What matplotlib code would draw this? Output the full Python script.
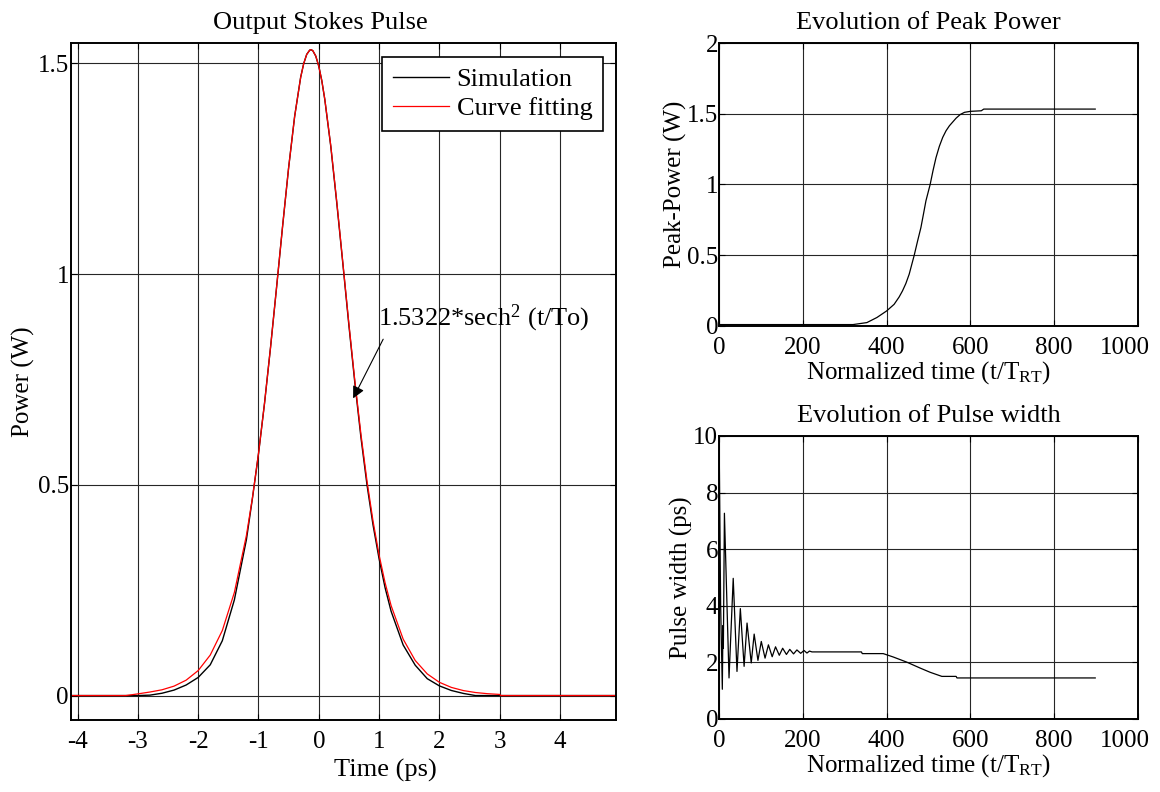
import matplotlib
matplotlib.use("Agg")
import matplotlib.pyplot as plt
from matplotlib.ticker import FuncFormatter
from matplotlib.transforms import ScaledTranslation

# Output Stokes pulse
t_ps = [-4.11, -3.2, -3.0, -2.8, -2.6, -2.4, -2.2, -2.0, -1.8, -1.6, -1.4, -1.2, -1.1,
        -1.0, -0.9, -0.8, -0.7, -0.6, -0.5, -0.4, -0.3, -0.25, -0.2, -0.15, -0.13, -0.1,
        -0.05, 0.0, 0.05, 0.1, 0.2, 0.3, 0.4, 0.5, 0.6, 0.7, 0.8, 0.9, 1.0, 1.1, 1.2, 1.4,
        1.6, 1.8, 2.0, 2.2, 2.4, 2.6, 2.8, 3.0, 3.02, 4.93]
p_sim = [0.0, 0.0, 0.0, 0.001, 0.0055, 0.013, 0.025, 0.043, 0.073, 0.13, 0.227, 0.37, 0.468,
         0.573, 0.693, 0.826, 0.968, 1.113, 1.252, 1.374, 1.467, 1.499, 1.521, 1.531, 1.532, 1.530,
         1.517, 1.493, 1.459, 1.414, 1.302, 1.167, 1.024, 0.878, 0.74, 0.612, 0.50, 0.405, 0.325, 0.256, 0.20, 0.12,
         0.072, 0.04, 0.023, 0.012, 0.005, 0.0, 0.0, 0.0, 0.0, 0.0]
p_fit = [0.0, 0.0, 0.004, 0.0084, 0.0137, 0.0224, 0.0365, 0.0593, 0.0961, 0.1542, 0.2445, 0.380, 0.4693,
         0.5736, 0.6930, 0.8258, 0.9682, 1.1134, 1.2521, 1.3737, 1.4666, 1.4991, 1.5208, 1.5313, 1.5322, 1.5301,
         1.5174, 1.4934, 1.4589, 1.4150, 1.3037, 1.1698, 1.0262, 0.8819, 0.7448, 0.6195, 0.5092, 0.4141, 0.3340, 0.2677, 0.2134, 0.1339,
         0.0832, 0.0513, 0.0315, 0.0193, 0.0118, 0.0072, 0.0044, 0.0027, 0.0, 0.0]

# Evolution of peak power
rt_peak = [0, 320, 353, 377, 400, 418, 430, 438, 446, 454, 466, 474, 482, 488, 494, 504,
           511, 518, 526, 534, 542, 550, 566, 576, 586, 600, 626, 632, 898]
peak_w = [0.01, 0.01, 0.024, 0.06, 0.106, 0.153, 0.205, 0.248, 0.30, 0.366, 0.5, 0.60, 0.696, 0.79, 0.885, 1.0,
          1.10, 1.19, 1.27, 1.333, 1.38, 1.415, 1.469, 1.495, 1.51, 1.517, 1.521, 1.533, 1.533]

# Evolution of pulse width
rt_width = [0, 4, 8, 9.5, 10.5, 13, 24, 34, 43, 51, 60, 67, 77, 84, 93, 101, 110, 118,
            127, 135, 144, 152, 161, 169, 178, 186, 195, 203, 210, 216, 222, 340, 342,
            392, 416, 448, 480, 504, 532, 566, 568, 898]
width_ps = [10.5, 4.0, 1.05, 3.3, 2.5, 7.27, 1.45, 4.97, 1.68, 3.9, 1.86, 3.39, 1.98, 3.0, 2.07, 2.74, 2.15, 2.62,
            2.2, 2.55, 2.25, 2.5, 2.28, 2.46, 2.3, 2.44, 2.32, 2.42, 2.33, 2.4, 2.37, 2.37, 2.31,
            2.31, 2.19, 2.01, 1.80, 1.65, 1.505, 1.505, 1.45, 1.45]

plt.rcParams['font.family'] = ['Liberation Serif', 'DejaVu Serif']
plt.rcParams['mathtext.fontset'] = 'custom'
plt.rcParams['mathtext.rm'] = 'Liberation Serif'
plt.rcParams['mathtext.it'] = 'Liberation Serif:italic'
plt.rcParams['axes.unicode_minus'] = False
plt.rcParams['font.size'] = 18

fig = plt.figure(figsize=(11.6, 7.92), dpi=100)
ax1 = fig.add_axes([0.0612, 0.0909, 0.4698, 0.8548])
ax2 = fig.add_axes([0.6198, 0.5884, 0.3612, 0.3573])
ax3 = fig.add_axes([0.6198, 0.0922, 0.3612, 0.3573])

fmt_g = FuncFormatter(lambda v, pos: '%g' % v)


def style(ax, ypad):
    ax.grid(True, color='0.15', lw=0.8)
    ax.set_axisbelow(True)
    ax.tick_params(direction='in', length=4, top=True, right=True, labelsize=18)
    ax.tick_params(axis='x', pad=8)
    ax.tick_params(axis='y', pad=ypad)
    for s in ax.spines.values():
        s.set_linewidth(1.4)
    ax.yaxis.set_major_formatter(fmt_g)
    ax.xaxis.set_major_formatter(fmt_g)


def shift_last_xlabel(ax, dx_px):
    lab = ax.xaxis.get_major_ticks()[-1].label1
    lab.set_transform(lab.get_transform() + ScaledTranslation(dx_px / 100, 0, fig.dpi_scale_trans))


# left panel
ax1.plot(t_ps, p_sim, color='black', lw=1.0, label='Simulation')
ax1.plot(t_ps, p_fit, color='red', lw=0.9, label='Curve fitting')
ax1.set_xlim(-4.11, 4.93)
ax1.set_ylim(-0.058, 1.548)
ax1.set_xticks(range(-4, 5))
ax1.set_yticks([0, 0.5, 1, 1.5])
style(ax1, 1.5)
ax1.set_title('Output Stokes Pulse', fontsize=19, pad=10, x=0.457)
ax1.set_xlabel('Time (ps)', fontsize=19, labelpad=3)
ax1.xaxis.set_label_coords(0.576, -0.057, transform=ax1.transAxes)
ax1.xaxis.label.set_va('top')
ax1.set_ylabel('Power (W)', fontsize=18, labelpad=2)
leg = ax1.legend(loc='upper right', bbox_to_anchor=(0.976, 0.979), borderaxespad=0,
                 fancybox=False, framealpha=1, edgecolor='black', fontsize=19,
                 handlelength=2.15, handletextpad=0.27, labelspacing=0.2, borderpad=0.4)
leg.get_frame().set_linewidth(1.2)
ax1.annotate(r'1.5322*sech$^{2}$ (t/To)', xy=(0.57, 0.705), xytext=(0.99, 0.895),
             ha='left', va='center', fontsize=19,
             arrowprops=dict(arrowstyle='-|>', color='black', lw=0.8,
                             mutation_scale=18, relpos=(0.035, 0.0), shrinkA=2, shrinkB=0))

# top right panel
ax2.plot(rt_peak, peak_w, color='black', lw=0.9)
ax2.set_xlim(0, 1000)
ax2.set_ylim(0, 2)
ax2.set_xticks(range(0, 1001, 200))
ax2.set_yticks([0, 0.5, 1, 1.5, 2])
style(ax2, 0.5)
shift_last_xlabel(ax2, -13)
ax2.set_title('Evolution of Peak Power', fontsize=19, pad=10)
ax2.set_xlabel(r'Normalized time (t/T$_{\mathrm{RT}}$)', fontsize=18, labelpad=0)
ax2.set_ylabel('Peak-Power (W)', fontsize=18, labelpad=0)

# bottom right panel
ax3.plot(rt_width, width_ps, color='black', lw=0.9)
ax3.set_xlim(0, 1000)
ax3.set_ylim(0, 10)
ax3.set_xticks(range(0, 1001, 200))
ax3.set_yticks(range(0, 11, 2))
style(ax3, 0.5)
shift_last_xlabel(ax3, -13)
ax3.set_title('Evolution of Pulse width', fontsize=19, pad=10)
ax3.set_xlabel(r'Normalized time (t/T$_{\mathrm{RT}}$)', fontsize=18, labelpad=0)
ax3.set_ylabel('Pulse width (ps)', fontsize=18, labelpad=0)

fig.savefig('out.png', dpi=100)
